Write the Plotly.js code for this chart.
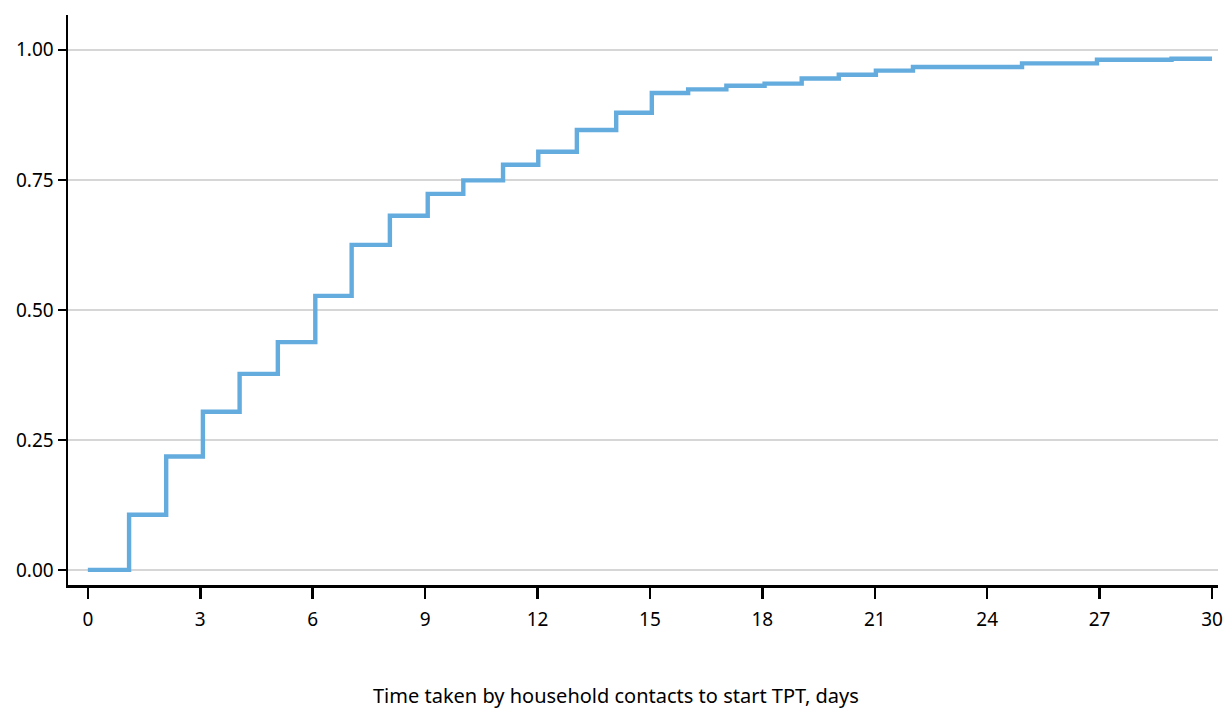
<!DOCTYPE html>
<html>
<head>
<meta charset="utf-8">
<script src="https://cdn.plot.ly/plotly-3.0.1.min.js"></script>
<style>body{margin:0;padding:0;background:#fff;} #chart{width:1224px;height:708px;}</style>
</head>
<body>
<div id="chart"></div>
<script>
// Days at which the cumulative proportion steps up
const stepDays = [0, 1.1, 2.09, 3.07, 4.05, 5.07, 6.07, 7.04, 8.06, 9.07, 10.02, 11.08, 12.02, 13.05, 14.1, 15.05, 16.02, 17.04, 18.06, 19.05, 20.04, 21.03, 22.02, 24.93, 26.93, 28.92, 30];
// Cumulative proportion of household contacts who started TPT
const cumProp = [0.000, 0.106, 0.218, 0.304, 0.377, 0.438, 0.527, 0.625, 0.681, 0.723, 0.749, 0.779, 0.804, 0.846, 0.879, 0.917, 0.924, 0.931, 0.935, 0.945, 0.952, 0.960, 0.967, 0.974, 0.981, 0.983, 0.983];
const xTicks = [0, 3, 6, 9, 12, 15, 18, 21, 24, 27, 30];
const yTicks = [0, 0.25, 0.5, 0.75, 1.0];
const yTickText = ["0.00", "0.25", "0.50", "0.75", "1.00"];
const xTitle = "Time taken by household contacts to start TPT, days";

const trace = {
  x: stepDays,
  y: cumProp,
  type: 'scatter',
  mode: 'lines',
  line: {shape: 'hv', color: '#65acde', width: 4.4},
  hoverinfo: 'x+y'
};

const tickFont = {family: 'Noto Sans, Open Sans, sans-serif', size: 19, color: '#000'};
const titleFont = {family: 'Noto Sans, Open Sans, sans-serif', size: 20, color: '#000'};

const layout = {
  width: 1224, height: 708,
  margin: {l: 68, r: 6, t: 15, b: 123},
  paper_bgcolor: '#fff', plot_bgcolor: '#fff',
  showlegend: false,
  font: tickFont,
  xaxis: {
    range: [-0.53, 30.16],
    tickvals: xTicks,
    ticktext: xTicks.map(String),
    ticks: 'outside', ticklen: 11, tickwidth: 2.5, tickcolor: '#000',
    ticklabelstandoff: 5,
    showline: true, linecolor: '#000', linewidth: 2.5,
    showgrid: false, zeroline: false,
    tickfont: tickFont,
    automargin: false
  },
  yaxis: {
    range: [-0.029, 1.067],
    tickvals: yTicks,
    ticktext: yTickText,
    ticks: 'outside', ticklen: 8, tickwidth: 2.5, tickcolor: '#000',
    showline: true, linecolor: '#000', linewidth: 2.5,
    showgrid: true, gridcolor: '#d6d6d6', gridwidth: 2,
    zeroline: false,
    tickfont: tickFont,
    automargin: false
  },
  annotations: [{
    text: xTitle,
    xref: 'paper', yref: 'paper',
    x: 0.4765, y: -0.193,
    xanchor: 'center', yanchor: 'middle',
    showarrow: false,
    font: titleFont
  }]
};

Plotly.newPlot('chart', [trace], layout, {displayModeBar: false, staticPlot: true});
</script>
</body>
</html>
